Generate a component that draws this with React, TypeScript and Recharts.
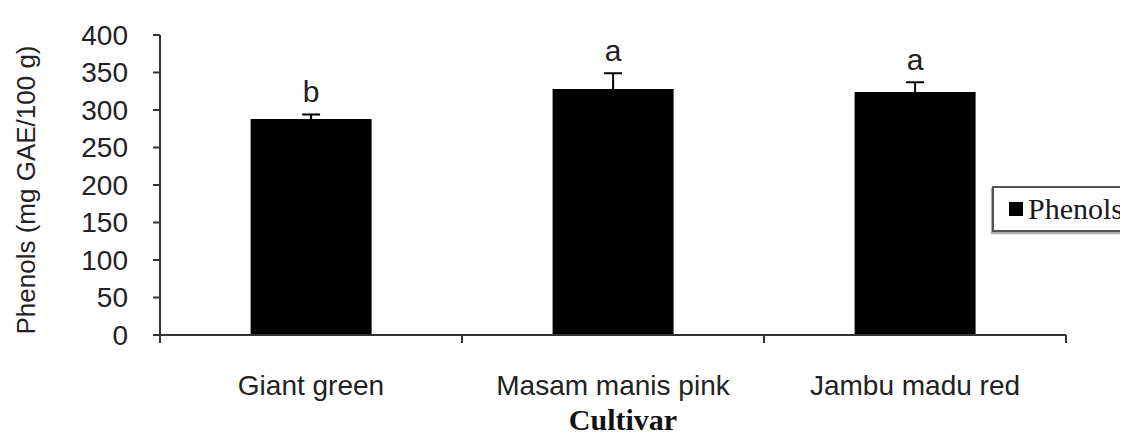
import React from "react"
import {
  Bar,
  ComposedChart,
  ErrorBar,
  LabelList,
  Legend,
  Scatter,
  XAxis,
  YAxis,
} from "recharts"

const cultivars = ["Giant green", "Masam manis pink", "Jambu madu red"]
const phenols = [288, 328, 324]
const phenolsErr = [6, 21, 13]
const letters = ["b", "a", "a"]
const yTicks = [0, 50, 100, 150, 200, 250, 300, 350, 400]

const data = cultivars.map((name, i) => ({
  name,
  phenols: phenols[i],
  err: phenolsErr[i],
  letter: letters[i],
}))

const sans = "'Liberation Sans', Arial, sans-serif"
const serif = "'Liberation Serif', 'Times New Roman', serif"
const axisColor = "#333333"

function CultivarTick(props: any) {
  const { x, y, payload, index } = props
  const half = payload.offset
  return (
    <g>
      <line x1={x - half} y1={y - 8} x2={x - half} y2={y} stroke={axisColor} strokeWidth={2} />
      {index === cultivars.length - 1 && (
        <line x1={x + half} y1={y - 8} x2={x + half} y2={y} stroke={axisColor} strokeWidth={2} />
      )}
      <text x={x} y={y + 52} textAnchor="middle" fontFamily={sans} fontSize={28} fill="#222">
        {payload.value}
      </text>
    </g>
  )
}

function LegendBox(props: any) {
  return (
    <div
      style={{
        boxSizing: "border-box",
        height: 46,
        border: "2px solid #555",
        borderRight: "none",
        boxShadow: "-1px 2px 1px #aaa",
        background: "#fff",
        display: "flex",
        alignItems: "center",
        paddingLeft: 15,
      }}
    >
      <span style={{ width: 14, height: 14, background: "#000", display: "inline-block", marginRight: 5 }} />
      <span style={{ fontFamily: serif, fontSize: 30, color: "#1a1a1a" }}>Phenols</span>
    </div>
  )
}

export default function App() {
  return (
    <ComposedChart
      width={1120}
      height={430}
      data={data}
      margin={{ top: 27, right: 62, left: 0, bottom: 0 }}
      barCategoryGap="30%"
    >
      <XAxis
        dataKey="name"
        height={103}
        tickLine={false}
        tickSize={8}
        tickMargin={0}
        tick={<CultivarTick />}
        axisLine={{ stroke: axisColor, strokeWidth: 2 }}
        label={({ viewBox }: any) => (
          <text
            x={viewBox.x + viewBox.width / 2 + 10}
            y={viewBox.y + 95}
            textAnchor="middle"
            fontFamily={serif}
            fontWeight="bold"
            fontSize={30}
            fill="#111"
          >
            Cultivar
          </text>
        )}
      />
      <YAxis
        width={152}
        domain={[0, 400]}
        ticks={yTicks}
        interval={0}
        tickSize={7}
        tickMargin={25}
        tick={{ fontFamily: sans, fontSize: 28, fill: "#222" }}
        tickLine={{ stroke: axisColor, strokeWidth: 2 }}
        axisLine={{ stroke: axisColor, strokeWidth: 2 }}
        label={() => (
          <text
            x={18}
            y={182}
            transform="rotate(-90, 18, 182)"
            textAnchor="middle"
            dominantBaseline="central"
            fontFamily={sans}
            fontSize={26}
            fill="#222"
          >
            Phenols (mg GAE/100 g)
          </text>
        )}
      />
      <Legend
        layout="horizontal"
        verticalAlign="middle"
        align="center"
        wrapperStyle={{ left: 984, top: 178, width: 136 }}
        content={<LegendBox />}
      />
      <Bar dataKey="phenols" name="Phenols" fill="#000" isAnimationActive={false}>
        <ErrorBar dataKey="err" width={9} stroke="#000" strokeWidth={2} direction="y" />
      </Bar>
      <Scatter
        dataKey={(d: any) => d.phenols + d.err}
        shape={() => <g />}
        legendType="none"
        isAnimationActive={false}
      >
        <LabelList
          dataKey="letter"
          position="top"
          offset={8}
          fontFamily={sans}
          fontSize={30}
          fill="#222"
        />
      </Scatter>
    </ComposedChart>
  )
}
